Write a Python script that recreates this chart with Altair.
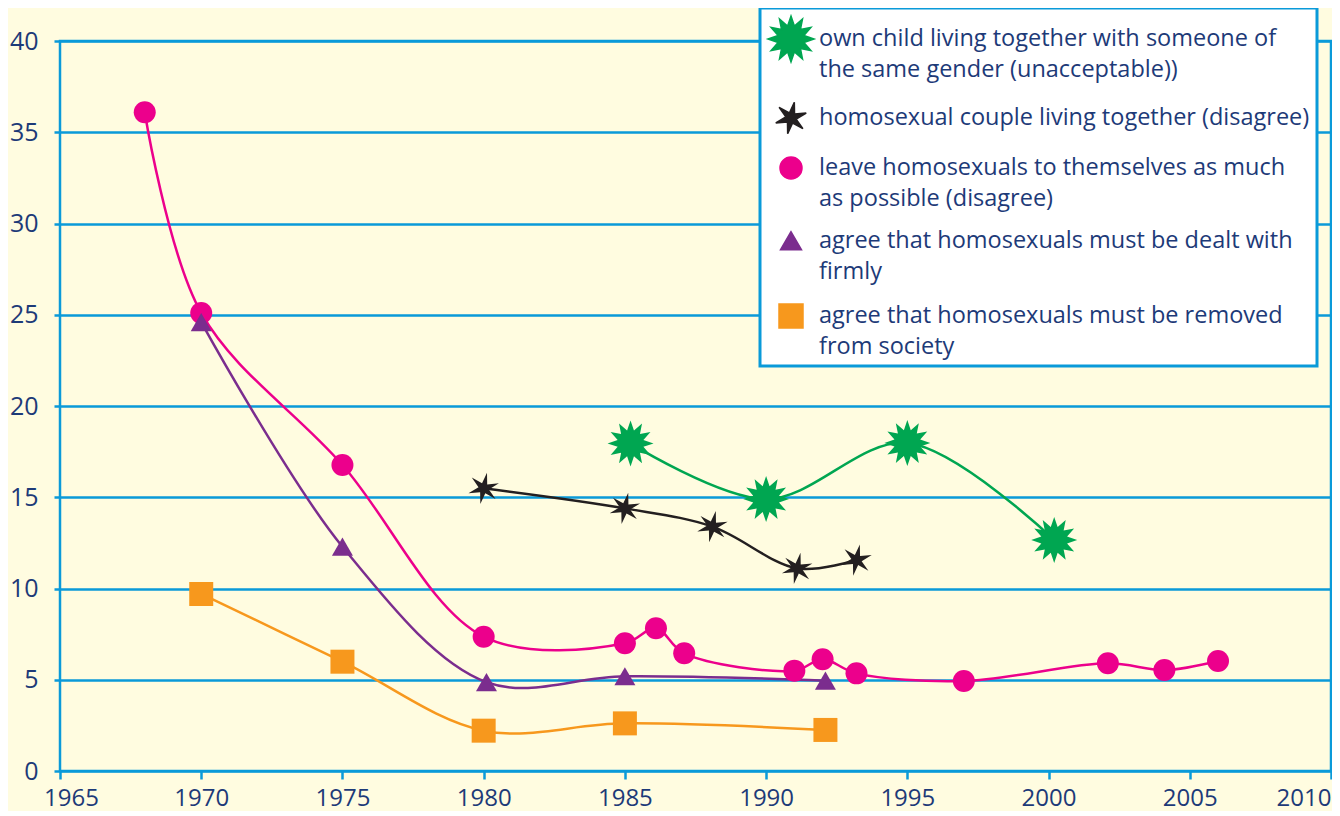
import math
import altair as alt
import pandas as pd

# ---------------- data ----------------
series_order = [
    "own child living together with someone of|the same gender (unacceptable))",
    "homosexual couple living together (disagree)",
    "leave homosexuals to themselves as much|as possible (disagree)",
    "agree that homosexuals must be dealt with|firmly",
    "agree that homosexuals must be removed|from society",
]

green_years = [1985.2, 1990, 1995, 2000.2]
green_vals = [17.95, 14.9, 17.97, 12.66]

black_years = [1980, 1985, 1988.1, 1991.1, 1993.2]
black_vals = [15.49, 14.39, 13.39, 11.1, 11.56]

pink_years = [1968, 1970, 1975, 1980, 1985, 1986.1, 1987.1, 1991, 1992, 1993.2, 1997, 2002.1, 2004.1, 2006]
pink_vals = [36.1, 25.1, 16.77, 7.36, 7.0, 7.82, 6.45, 5.5, 6.12, 5.35, 4.93, 5.9, 5.53, 6.03]

purple_years = [1970, 1975, 1980.1, 1985, 1992.1]
purple_vals = [24.6, 12.29, 4.87, 5.19, 4.95]

orange_years = [1970, 1975, 1980, 1985, 1992.1]
orange_vals = [9.7, 5.99, 2.21, 2.61, 2.25]

x_ticks = [1965, 1970, 1975, 1980, 1985, 1990, 1995, 2000, 2005, 2010]
y_ticks = [0, 5, 10, 15, 20, 25, 30, 35, 40]

# ---------------- styling ----------------
BG = "#FFFCE0"
BLUE = "#0A9AD9"
TEXT = "#1D3A78"
FONT = "Open Sans"
colors = ["#00A651", "#231F20", "#EC008C", "#7B2D8E", "#F7981D"]
sizes = [2116, 1024, 484, 440, 576]


def star_path(n, r_in, rot_deg):
    pts = []
    for i in range(2 * n):
        a = math.radians(rot_deg) + i * math.pi / n
        r = 1.0 if i % 2 == 0 else r_in
        pts.append((r * math.sin(a), -r * math.cos(a)))
    return "M" + "L".join(f"{x:.3f},{y:.3f}" for x, y in pts) + "Z"


shapes = [
    star_path(12, 0.58, 0),
    star_path(6, 0.33, 12),
    "circle",
    "triangle-up",
    "square",
]

rows = []
for name, ys, vs in zip(
    series_order,
    [green_years, black_years, pink_years, purple_years, orange_years],
    [green_vals, black_vals, pink_vals, purple_vals, orange_vals],
):
    for yr, v in zip(ys, vs):
        rows.append({"year": yr, "value": v, "series": name})
df = pd.DataFrame(rows)

x_enc = alt.X(
    "year:Q",
    scale=alt.Scale(domain=[1965, 2010], nice=False, zero=False),
    axis=alt.Axis(
        values=x_ticks,
        format="d",
        title=None,
        grid=False,
        domain=False,
        tickColor=BLUE,
        tickWidth=2.5,
        tickSize=8,
        labelPadding=7,
        labelFlush=False,
        labelFont=FONT,
        labelFontSize=24,
        labelColor=TEXT,
        labelOffset={"condition": {"test": "datum.value == 1965", "value": 11}, "value": 0},
        labelAlign={"condition": {"test": "datum.value == 2010", "value": "right"}, "value": "center"},
    ),
)
y_enc = alt.Y(
    "value:Q",
    scale=alt.Scale(domain=[0, 40], nice=False),
    axis=alt.Axis(
        values=y_ticks,
        title=None,
        grid=True,
        gridColor=BLUE,
        gridWidth=2.5,
        domain=False,
        tickColor=BLUE,
        tickWidth=2.5,
        tickSize=6,
        labelPadding=16,
        labelFont=FONT,
        labelFontSize=25,
        labelColor=TEXT,
    ),
)

color_scale = alt.Scale(domain=series_order, range=colors)

lines = alt.Chart(df).mark_line(interpolate="catmull-rom", strokeWidth=2.5).encode(
    x=x_enc,
    y=y_enc,
    color=alt.Color("series:N", scale=color_scale),
    detail="series:N",
)

points = alt.Chart(df).mark_point(filled=True, opacity=1).encode(
    x=x_enc,
    y=y_enc,
    color=alt.Color(
        "series:N",
        scale=color_scale,
        legend=alt.Legend(
            title=None,
            orient="none",
            legendX=700,
            legendY=-33,
            labelExpr="split(datum.label, '|')",
            labelFont=FONT,
            labelFontSize=23.5,
            labelColor=TEXT,
            labelLimit=700,
            labelOffset=4,
            rowPadding=17,
            padding=7,
            fillColor="white",
            strokeColor=BLUE,
        ),
    ),
    shape=alt.Shape("series:N", scale=alt.Scale(domain=series_order, range=shapes)),
    size=alt.Size("series:N", scale=alt.Scale(type="ordinal", domain=series_order, range=sizes)),
)

chart = (
    alt.layer(lines, points)
    .properties(
        width=1271,
        height=730,
        background=BG,
        padding={"left": 52, "top": 33, "right": 1, "bottom": 40},
        autosize=alt.AutoSizeParams(type="none"),
    )
    .configure(style={"guide-label": {"lineHeight": 31}})
    .configure_view(stroke=BLUE, strokeWidth=2.5)
    .configure_legend(strokeWidth=3)
)

chart.save("out.html", embed_options={"renderer": "svg", "actions": False})
